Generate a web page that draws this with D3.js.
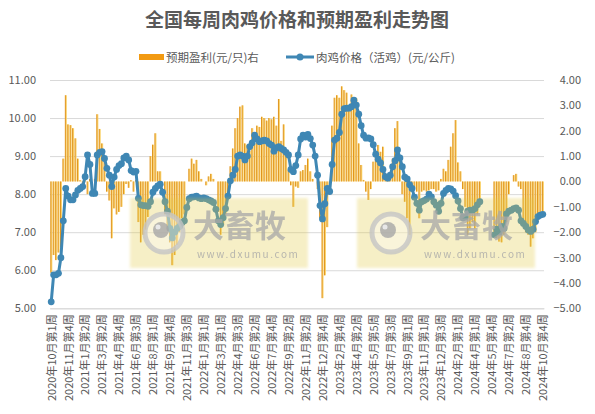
<!DOCTYPE html>
<html>
<head>
<meta charset="utf-8">
<script src="https://cdn.jsdelivr.net/npm/d3@7"></script>
<style>
body { margin: 0; background: #fff; }
svg text { font-family: "Noto Sans CJK SC", "Noto Sans", sans-serif; fill: #595959; }
</style>
</head>
<body>
<svg id="chart" width="595" height="414"></svg>
<script>
// Donnees, une valeur par semaine
var price = [
  5.17, 5.88, 5.88, 5.92, 6.33, 7.30, 8.15, 7.95, 7.85, 7.85,
  7.98, 8.10, 8.15, 8.20, 8.46, 9.03, 8.78, 8.02, 8.02, 9.03,
  9.10, 9.12, 8.94, 8.68, 8.50, 8.20, 8.45, 8.65, 8.75, 8.80,
  8.95, 9.00, 8.90, 8.62, 8.58, 8.60, 7.89, 7.72, 7.70, 7.70,
  7.68, 7.80, 8.05, 8.15, 8.22, 8.26, 8.05, 7.80, 7.55, 7.10,
  6.85, 7.00, 7.10, 7.15, 7.25, 7.30, 7.65, 7.88, 7.92, 7.93,
  7.95, 7.90, 7.88, 7.90, 7.88, 7.85, 7.82, 7.78, 7.60, 7.30,
  7.20, 7.38, 7.62, 7.95, 8.35, 8.50, 8.65, 9.00, 9.03, 9.00,
  8.90, 9.00, 9.25, 9.35, 9.55, 9.45, 9.38, 9.40, 9.42, 9.40,
  9.33, 9.29, 9.13, 9.22, 9.25, 9.20, 9.16, 9.10, 9.03, 8.65,
  8.59, 8.75, 9.03, 9.45, 9.55, 9.50, 9.57, 9.46, 9.29, 9.00,
  8.50, 7.70, 7.35, 7.75, 8.15, 8.07, 8.78, 9.42, 9.47, 9.62,
  10.10, 10.25, 10.26, 10.26, 10.30, 10.47, 10.34, 10.10, 9.80, 9.55,
  9.47, 9.48, 9.45, 9.30, 9.05, 8.92, 8.82, 8.65, 8.46, 8.42,
  8.50, 8.72, 8.88, 9.16, 8.95, 8.72, 8.45, 8.40, 8.25, 8.15,
  7.92, 7.76, 7.58, 7.80, 7.83, 7.87, 8.00, 7.93, 7.80, 7.71,
  7.55, 7.76, 8.02, 8.10, 8.15, 8.14, 8.08, 7.96, 7.82, 7.62,
  7.38, 7.40, 7.55, 7.58, 7.58, 7.62, 7.72, 7.80, null, null,
  null, null, null, 6.93, 7.08, 7.00, 7.15, 7.10, 7.48, 7.55,
  7.58, 7.62, 7.64, 7.58, 7.30, 7.23, 7.15, 7.06, 7.02, 7.08,
  7.28, 7.41, 7.45, 7.47
];

var profit = [
  -3.6, -2.9, -3.1, -2.8, -2.6, 0.9, 3.4, 2.25, 2.22, 2.1,
  1.7, 0.9, 0.05, -0.1, 0.05, -0.5, 0.1, 0.0, 0.1, 2.65,
  2.07, 1.5, 1.0, -0.4, -0.75, -2.24, -1.06, -1.3, -1.2, -1.0,
  -0.5, -0.1, -0.25, 0.05, -0.4, 0.05, -1.6, -2.4, -2.1, -1.9,
  -1.4, 1.0, 1.45, 1.9, 0.4, 0.4, 0.0, -1.3, -1.85, -2.4,
  -3.3, -2.9, -2.5, -2.0, -1.45, -1.3, 0.0, 0.5, 0.9, 0.7,
  0.85, 0.4, 0.1, 0.0, -0.15, 0.2, 0.3, 0.1, 0.0, -1.2,
  -2.1, -1.7, -1.3, -0.5, 0.6, 1.3, 2.1, 2.5, 2.95, 3.0,
  1.5, 1.45, 1.2, 2.1, 1.5, 2.2, 2.15, 2.55, 2.5, 2.4,
  2.5, 2.45, 2.55, 2.2, 3.25, 1.6, 2.25, 1.2, 0.45, -0.15,
  -1.0, -0.2, -0.25, 0.4, 0.45, 0.65, 0.9, 0.4, 0.1, 0.0,
  -0.3, -1.45, -4.6, -3.7, -1.8, -0.2, 2.2, 3.3, 3.4, 3.3,
  3.75, 3.6, 3.5, 2.88, 3.43, 3.0, 3.28, 1.5, 0.65, 0.06,
  -0.4, -0.73, -0.3, 0.78, 1.04, 1.44, 1.17, 1.37, 0.3, 0.05,
  0.3, 0.9, 2.1, 2.38, 0.8, -0.5, -0.8, -1.45, -2.1, -0.4,
  -0.25, -0.4, -1.45, -0.4, -0.35, -0.4, -0.35, -0.3, -0.3, -0.4,
  -0.35, 0.1, 0.5, 0.4, 0.85, 1.37, 1.9, 2.42, 0.75, 0.4,
  -0.3, -1.0, -2.1, -1.85, -1.6, -1.85, -1.3, -0.8, null, null,
  null, null, null, -2.0, -2.24, -2.37, -2.4, -2.1, -1.6, -0.5,
  0.0, 0.25, 0.3, -0.2, -0.3, -1.6, -2.0, -2.1, -2.57, -2.24,
  -2.0, -1.6, -1.3, -1.3
];

// Etiquettes de l'axe des x (une toutes les 7 semaines)
var tickLabels = [
  "2020年10月第1周", "2020年11月第4周", "2021年1月第2周", "2021年3月第2周",
  "2021年4月第4周", "2021年6月第3周", "2021年8月第1周", "2021年9月第4周",
  "2021年11月第3周", "2022年1月第1周", "2022年3月第1周", "2022年4月第3周",
  "2022年6月第2周", "2022年7月第4周", "2022年9月第2周", "2022年11月第2周",
  "2022年12月第4周", "2023年2月第4周", "2023年4月第2周", "2023年5月第5周",
  "2023年7月第3周", "2023年9月第1周", "2023年11月第1周", "2023年12月第3周",
  "2024年2月第1周", "2024年4月第1周", "2024年5月第4周", "2024年7月第2周",
  "2024年8月第4周", "2024年10月第4周"
];
var tickStep = 7;

var leftTicks = [5, 6, 7, 8, 9, 10, 11];
var rightTicks = [-5, -4, -3, -2, -1, 0, 1, 2, 3, 4];

var titre = "全国每周肉鸡价格和预期盈利走势图";
var nomBarres = "预期盈利(元/只)右";
var nomLigne = "肉鸡价格（活鸡）(元/公斤)";

var orange = "#F29A12";
var bleu = "#3F87B4";

// Dessin
var svg = d3.select("#chart");
var gauche = 50, droite = 544, haut = 80, bas = 308.3;

var x = d3.scalePoint().domain(d3.range(price.length)).range([gauche, droite]).padding(0.5);
var yL = d3.scaleLinear().domain([5, 11]).range([bas, haut]);
var yR = d3.scaleLinear().domain([-5, 4]).range([bas, haut]);

// Titre
svg.append("text").attr("x", 297).attr("y", 27)
  .attr("text-anchor", "middle").style("font-size", "19px").style("font-weight", "bold")
  .text(titre);

// Legende
svg.append("rect").attr("x", 139).attr("y", 54).attr("width", 25).attr("height", 6).attr("fill", orange);
svg.append("text").attr("x", 166).attr("y", 61.5).style("font-size", "11.5px").text(nomBarres);
svg.append("line").attr("x1", 286).attr("x2", 314).attr("y1", 57).attr("y2", 57)
  .attr("stroke", bleu).attr("stroke-width", 3);
svg.append("circle").attr("cx", 300).attr("cy", 57).attr("r", 3.5).attr("fill", bleu);
svg.append("text").attr("x", 316).attr("y", 61.5).style("font-size", "11.5px").text(nomLigne);

// Axe gauche + grille
var axeG = svg.append("g").attr("transform", "translate(" + gauche + ",0)")
  .call(d3.axisLeft(yL).tickValues(leftTicks).tickFormat(d3.format(".2f"))
    .tickSize(-(droite - gauche)).tickPadding(14));
axeG.select(".domain").remove();
axeG.selectAll("line").attr("stroke", "#D9D9D9");
axeG.selectAll("text").style("font-size", "11px");

// Axe droit
var axeD = svg.append("g").attr("transform", "translate(" + droite + ",0)")
  .call(d3.axisRight(yR).tickValues(rightTicks).tickFormat(d3.format(".2f")).tickSize(0));
axeD.select(".domain").remove();
axeD.selectAll("text").attr("x", 37).attr("text-anchor", "end").style("font-size", "11px");

// Axe x
var axeX = svg.append("g").attr("transform", "translate(0," + bas + ")")
  .call(d3.axisBottom(x)
    .tickValues(d3.range(0, price.length, tickStep))
    .tickFormat(function (d) { return tickLabels[d / tickStep]; })
    .tickSize(0));
axeX.select(".domain").attr("stroke", "#D9D9D9");
axeX.selectAll("text")
  .attr("transform", "rotate(-90)")
  .attr("text-anchor", "end")
  .attr("x", -6).attr("y", 0).attr("dy", "0.35em")
  .style("font-size", "11px");

// Barres (axe droit) : un trait fonce et un liseré jaune, comme l'original
var barres = profit.map(function (v, i) { return { i: i, v: v }; }).filter(function (d) { return d.v !== null; });
var gBarres = svg.append("g");
gBarres.selectAll("rect.clair").data(barres).enter().append("rect")
  .attr("class", "clair")
  .attr("x", function (d) { return x(d.i) - 0.5; })
  .attr("width", 1.6)
  .attr("y", function (d) { return Math.min(yR(0), yR(d.v)); })
  .attr("height", function (d) { return Math.abs(yR(d.v) - yR(0)); })
  .attr("fill", "#FAD36C");
gBarres.selectAll("rect.fonce").data(barres).enter().append("rect")
  .attr("class", "fonce")
  .attr("x", function (d) { return x(d.i) - 0.9; })
  .attr("width", 1)
  .attr("y", function (d) { return Math.min(yR(0), yR(d.v)); })
  .attr("height", function (d) { return Math.abs(yR(d.v) - yR(0)); })
  .attr("fill", "#E0941F");

// Ligne (axe gauche)
var ligne = d3.line()
  .defined(function (d) { return d !== null; })
  .x(function (d, i) { return x(i); })
  .y(function (d) { return yL(d); });
svg.append("path").datum(price).attr("d", ligne)
  .attr("fill", "none").attr("stroke", bleu).attr("stroke-width", 3).attr("stroke-linejoin", "round");
svg.append("g").selectAll("circle")
  .data(price.map(function (v, i) { return { i: i, v: v }; }).filter(function (d) { return d.v !== null; }))
  .enter().append("circle")
  .attr("cx", function (d) { return x(d.i); })
  .attr("cy", function (d) { return yL(d.v); })
  .attr("r", 3.4)
  .attr("fill", bleu);

// Filigranes
var defs = svg.append("defs");
defs.append("filter").attr("id", "flou").append("feGaussianBlur").attr("stdDeviation", 1.5);
[130, 357].forEach(function (x0) {
  var g = svg.append("g").attr("transform", "translate(" + x0 + ",198)");
  g.append("rect").attr("width", 178).attr("height", 70)
    .attr("fill", "#E3CB45").attr("opacity", 0.3).attr("filter", "url(#flou)");
  g.append("circle").attr("cx", 34).attr("cy", 35).attr("r", 19)
    .attr("fill", "#ffffff").attr("fill-opacity", 0.35)
    .attr("stroke", "#C4C4C4").attr("stroke-width", 5).attr("stroke-opacity", 0.8);
  g.append("circle").attr("cx", 31).attr("cy", 32).attr("r", 8).attr("fill", "#A6A6A6").attr("opacity", 0.8);
  g.append("circle").attr("cx", 28).attr("cy", 29).attr("r", 2.5).attr("fill", "#E8E8E8");
  g.append("text").attr("x", 63).attr("y", 39)
    .style("font-size", "31px").style("font-weight", "bold").style("fill", "#A8A8A8").style("opacity", 0.75)
    .text("大畜牧");
  g.append("text").attr("x", 67).attr("y", 60)
    .style("font-size", "10px").style("letter-spacing", "1.6px").style("fill", "#A8A8A8").style("opacity", 0.8)
    .text("www.dxumu.com");
});
</script>
</body>
</html>
